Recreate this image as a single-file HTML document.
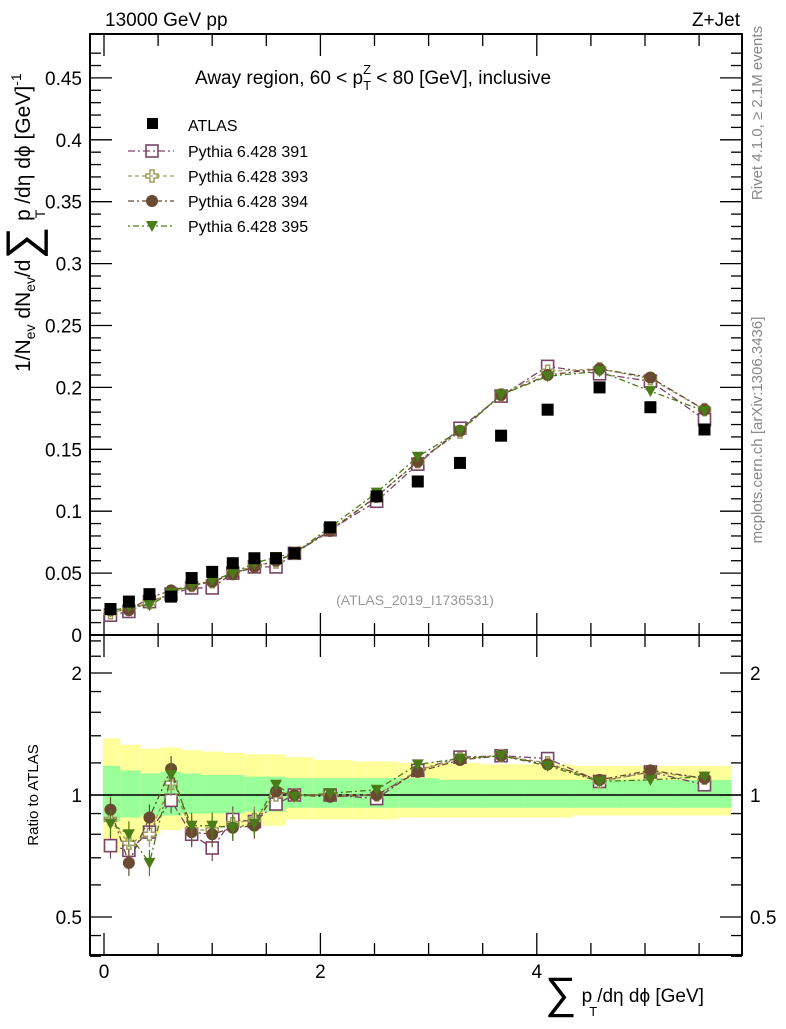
<!DOCTYPE html>
<html><head><meta charset="utf-8"><style>
body{margin:0;background:#fff;}
svg text{font-family:"Liberation Sans",sans-serif;}
</style></head><body>
<svg id="c" width="786" height="1024" xmlns="http://www.w3.org/2000/svg">
<g id="bands"></g>
<g id="grid"></g>
<g id="marks"></g>
<rect x="90" y="34" width="652" height="601" fill="none" stroke="#000" stroke-width="2"/>
<rect x="90" y="635" width="652" height="320" fill="none" stroke="#000" stroke-width="2"/>
<text x="105" y="26" font-size="19">13000 GeV pp</text>
<text x="740" y="26" font-size="19" text-anchor="end">Z+Jet</text>
<text x="195" y="84" font-size="19">Away region, 60 &lt; p<tspan font-size="13" dy="6">T</tspan><tspan font-size="13" dx="-8" dy="-16">Z</tspan><tspan dy="10"> &lt; 80 [GeV], inclusive</tspan></text>
<text x="415" y="605" font-size="14" fill="#999" text-anchor="middle">(ATLAS_2019_I1736531)</text>
<text transform="translate(762,113) rotate(-90)" font-size="15" fill="#888" text-anchor="middle">Rivet 4.1.0, ≥ 2.1M events</text>
<text transform="translate(762,430) rotate(-90)" font-size="15" fill="#888" text-anchor="middle">mcplots.cern.ch [arXiv:1306.3436]</text>
<text transform="translate(30,372) rotate(-90)" font-size="21">1/N<tspan font-size="14" dy="5">ev</tspan><tspan dy="-5"> dN</tspan><tspan font-size="14" dy="5">ev</tspan><tspan dy="-5">/d</tspan><tspan font-size="46" dy="8">∑</tspan><tspan dy="-8"> p</tspan><tspan font-size="14" dx="-9" dy="15">T</tspan><tspan dy="-15"> /dη dϕ  [GeV]</tspan><tspan font-size="14" dy="-9">-1</tspan></text>
<text transform="translate(38,795) rotate(-90)" font-size="15" text-anchor="middle">Ratio to ATLAS</text>
<text x="545" y="1002" font-size="19"><tspan font-size="44" dy="6">∑</tspan><tspan dy="-6"> p</tspan><tspan font-size="13" dx="-3" dy="14">T</tspan><tspan dy="-14">/dη dϕ [GeV]</tspan></text>
<g id="legend"></g>
</svg>
<script>
const xs=[0.06,0.23,0.42,0.62,0.81,1.0,1.19,1.39,1.59,1.76,2.09,2.52,2.9,3.29,3.67,4.1,4.58,5.05,5.55];
const atlas=[0.021,0.027,0.033,0.031,0.046,0.051,0.058,0.062,0.062,0.066,0.087,0.112,0.124,0.139,0.161,0.182,0.200,0.184,0.166];
const p391=[0.016,0.019,0.027,0.033,0.038,0.038,0.050,0.055,0.055,0.066,0.085,0.108,0.138,0.167,0.193,0.217,0.211,0.205,0.174];
const p393=[0.018,0.021,0.026,0.034,0.040,0.043,0.050,0.056,0.059,0.066,0.085,0.112,0.140,0.164,0.194,0.213,0.215,0.207,0.182];
const p394=[0.020,0.020,0.030,0.036,0.040,0.043,0.049,0.055,0.060,0.066,0.084,0.112,0.140,0.165,0.194,0.210,0.215,0.208,0.182];
const p395=[0.019,0.023,0.024,0.034,0.040,0.044,0.050,0.058,0.063,0.066,0.087,0.115,0.144,0.165,0.194,0.209,0.213,0.197,0.181];
const r391=[0.75,0.73,0.81,0.97,0.80,0.74,0.87,0.86,0.95,1.00,1.00,0.98,1.15,1.24,1.25,1.23,1.08,1.14,1.06];
const r393=[0.87,0.76,0.80,1.07,0.82,0.82,0.85,0.87,1.00,1.00,1.00,1.00,1.15,1.23,1.25,1.20,1.08,1.14,1.10];
const r394=[0.92,0.68,0.88,1.16,0.81,0.80,0.83,0.84,1.02,1.00,0.99,1.00,1.14,1.22,1.25,1.19,1.09,1.15,1.10];
const r395=[0.85,0.80,0.68,1.12,0.84,0.84,0.83,0.85,1.06,0.99,1.01,1.03,1.19,1.23,1.25,1.18,1.08,1.09,1.11];
const binEdges=[-0.01,0.15,0.34,0.52,0.72,0.9,1.1,1.3,1.5,1.68,1.93,2.3,2.72,3.1,3.48,3.88,4.34,4.8,5.3,5.8];
const yUp=[1.38,1.33,1.30,1.31,1.29,1.28,1.27,1.26,1.26,1.24,1.22,1.21,1.20,1.20,1.19,1.19,1.18,1.18,1.18];
const yDn=[0.72,0.77,0.80,0.82,0.83,0.83,0.84,0.84,0.84,0.87,0.87,0.87,0.88,0.88,0.88,0.88,0.89,0.89,0.89];
const gUp=[1.18,1.15,1.13,1.14,1.13,1.12,1.12,1.11,1.11,1.10,1.10,1.10,1.10,1.09,1.09,1.09,1.09,1.09,1.09];
const gDn=[0.86,0.88,0.89,0.89,0.90,0.90,0.90,0.91,0.91,0.93,0.93,0.93,0.93,0.93,0.93,0.93,0.93,0.93,0.93];
const yTicks=[0,0.05,0.1,0.15,0.2,0.25,0.3,0.35,0.4,0.45];
const yTickLabels=["0","0.05","0.1","0.15","0.2","0.25","0.3","0.35","0.4","0.45"];
const xTicks=[0,2,4];

const NS="http://www.w3.org/2000/svg";
const X=v=>104+v*108.2;
const Y=v=>635-v*1238;
const R=v=>795-Math.log2(v)*122;
function mk(t,a,p){const e=document.createElementNS(NS,t);for(const k in a)e.setAttribute(k,a[k]);(p||document.getElementById('marks')).appendChild(e);return e;}
const bands=document.getElementById('bands'),grid=document.getElementById('grid');
for(let i=0;i<xs.length;i++){
 const x0=X(binEdges[i]),w=X(binEdges[i+1])-x0;
 let e=mk('rect',{x:x0,y:R(yUp[i]),width:w,height:R(yDn[i])-R(yUp[i]),fill:'#ffff99'},bands);
 
 e=mk('rect',{x:x0,y:R(gUp[i]),width:w,height:R(gDn[i])-R(gUp[i]),fill:'#99ff99'},bands);
 
}
mk('line',{x1:90,x2:742,y1:R(1),y2:R(1),stroke:'#000','stroke-width':1.5},grid);
for(let v=0;v<=0.48;v+=0.01){const maj=Math.abs(v/0.05-Math.round(v/0.05))<1e-6;const l=maj?22:11;
 mk('line',{x1:90,x2:90+l,y1:Y(v),y2:Y(v),stroke:'#000','stroke-width':1.3},grid);
 mk('line',{x1:742,x2:742-l,y1:Y(v),y2:Y(v),stroke:'#000','stroke-width':1.3},grid);}
yTicks.forEach((v,i)=>{const t=mk('text',{x:82,y:Y(v)+7,'font-size':19,'text-anchor':'end'},grid);t.textContent=yTickLabels[i];
 });
for(let v=0;v<=5.9;v+=0.5){const maj=Math.abs(v%2)<1e-6;const l=maj?22:12;
 [[635,-1],[34,1],[955,-1],[635,1]].forEach(([y,d])=>mk('line',{x1:X(v),x2:X(v),y1:y,y2:y+d*l,stroke:'#000','stroke-width':1.3},grid));}
xTicks.forEach(v=>{const t=mk('text',{x:X(v),y:978,'font-size':19,'text-anchor':'middle'},grid);t.textContent=v;
 });
[0.5,0.6,0.7,0.8,0.9,1,1.2,1.4,1.6,1.8,2,2.2,2.4,0.45,0.4].forEach(v=>{const maj=[0.5,1,2].includes(v);const l=maj?22:11;
 mk('line',{x1:90,x2:90+l,y1:R(v),y2:R(v),stroke:'#000','stroke-width':1.3},grid);
 mk('line',{x1:742,x2:742-l,y1:R(v),y2:R(v),stroke:'#000','stroke-width':1.3},grid);});
[[2,'2'],[1,'1'],[0.5,'0.5']].forEach(([v,s])=>{
 let t=mk('text',{x:82,y:R(v)+7,'font-size':19,'text-anchor':'end'},grid);t.textContent=s;
 
 t=mk('text',{x:750,y:R(v)+7,'font-size':19},grid);t.textContent=s;
 });

const series=[
 {n:'391',d:p391,r:r391,c:'#7a4466',m:'sq',dash:'7,3,2,3'},
 {n:'393',d:p393,r:r393,c:'#a09a5c',m:'cross',dash:'4,3'},
 {n:'394',d:p394,r:r394,c:'#6b4a32',m:'circ',dash:'6,3,2,3'},
 {n:'395',d:p395,r:r395,c:'#4a7d1a',m:'tri',dash:'2,3,6,3'}];
function marker(s,x,y,nm){let e;
 if(s.m==='sq')e=mk('rect',{x:x-6,y:y-6,width:12,height:12,fill:'#fff',stroke:s.c,'stroke-width':1.6});
 else if(s.m==='cross')e=mk('path',{d:`M${x-2},${y-6}h4v4h4v4h-4v4h-4v-4h-4v-4h4z`,fill:'#fff',stroke:s.c,'stroke-width':1.5});
 else if(s.m==='circ')e=mk('circle',{cx:x,cy:y,r:6,fill:s.c});
 else e=mk('path',{d:`M${x-6},${y-5}h12l-6,11z`,fill:s.c});
 }
series.forEach(s=>{
 let p=mk('polyline',{points:xs.map((x,i)=>X(x)+','+Y(s.d[i])).join(' '),fill:'none',stroke:s.c,'stroke-width':1.3,'stroke-dasharray':s.dash});
 
 p=mk('polyline',{points:xs.map((x,i)=>X(x)+','+R(s.r[i])).join(' '),fill:'none',stroke:s.c,'stroke-width':1.3,'stroke-dasharray':s.dash});
 
 xs.forEach((x,i)=>{
  if(x<1.5){const e=mk('line',{x1:X(x),x2:X(x),y1:R(s.r[i])-13,y2:R(s.r[i])+13,stroke:s.c,'stroke-width':1.2});
   }
  marker(s,X(x),Y(s.d[i]),'point-pythia-'+s.n);marker(s,X(x),R(s.r[i]),'ratio-point-pythia-'+s.n);});
});
xs.forEach((x,i)=>{const e=mk('rect',{x:X(x)-6,y:Y(atlas[i])-6,width:12,height:12,fill:'#000'});
 });
const lg=document.getElementById('legend');
let e=mk('rect',{x:147,y:118,width:11,height:11,fill:'#000'},lg);
let t=mk('text',{x:188,y:131,'font-size':16},lg);t.textContent='ATLAS';
series.forEach((s,i)=>{const y=151+i*25;
 const l=mk('line',{x1:128,x2:174,y1:y,y2:y,stroke:s.c,'stroke-width':1.2,'stroke-dasharray':s.dash},lg);
 
 marker(s,152,y,'legend-marker-'+s.n);
 const tt=mk('text',{x:188,y:y+6,'font-size':16},lg);tt.textContent='Pythia 6.428 '+s.n;
 });
</script>
</body></html>
